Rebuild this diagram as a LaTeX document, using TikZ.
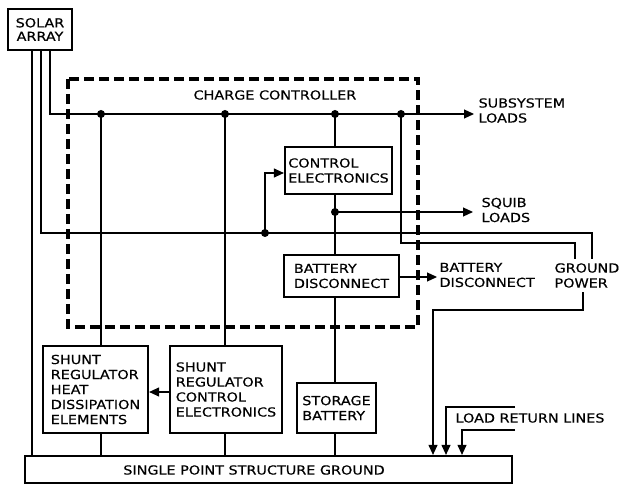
\documentclass[tikz,border=0pt]{standalone}
\usepackage{fontspec}
\setmainfont[FakeStretch=1.15,FakeBold=0.4]{DejaVu Sans}
\usetikzlibrary{arrows.meta}

\begin{document}
\begin{tikzpicture}[x=1pt,y=-1pt,line width=1.1pt,
        font=\fontsize{12.5}{15}\selectfont,
        box/.style={draw,line width=2.2pt,inner sep=0pt,align=left},
        txt/.style={inner sep=0pt,align=left,anchor=west},
        arr/.style={-{Triangle[length=10pt,width=9pt]}},
        dashbox/.style={line width=4.5pt,dash pattern=on 10pt off 5pt}]
        \useasboundingbox (0,0) rectangle (621,486);
        \node[box,align=center,minimum width=64pt,minimum height=41pt,font=\fontsize{12.5}{13.5}\selectfont] (solar) at (40,29.5) {SOLAR\\ARRAY};
        \node[box,minimum width=107pt,minimum height=47pt] (ctrl) at (338.5,170.5) {CONTROL\\ELECTRONICS};
        \node[box,minimum width=115pt,minimum height=42pt] (batd) at (341.5,276) {BATTERY\\DISCONNECT};
        \node[box,minimum width=105pt,minimum height=87pt] (heat) at (95.5,389.5) {SHUNT\\REGULATOR\\HEAT\\DISSIPATION\\ELEMENTS};
        \node[box,minimum width=112pt,minimum height=87pt] (sreg) at (226,389.5) {SHUNT\\REGULATOR\\CONTROL\\ELECTRONICS};
        \node[box,minimum width=79pt,minimum height=50pt] (stor) at (336.5,408) {STORAGE\\BATTERY};
        \node[box,minimum width=487pt,minimum height=27pt] (gnd) at (268.5,469.5) {};
        \node (gndtxt) at (254,470) {SINGLE POINT STRUCTURE GROUND};

        \node[txt] (ccl) at (193,95) {CHARGE CONTROLLER};
        \node[txt] (subsys) at (478,110.5) {SUBSYSTEM\\LOADS};
        \node[txt] (squib) at (481,210) {SQUIB\\LOADS};
        \node[txt] (batlbl) at (439,275) {BATTERY\\DISCONNECT};
        \node[txt,inner ysep=4pt] (gpow) at (554,275.5) {GROUND\\POWER};
        \node[txt] (lret) at (455,418) {LOAD RETURN LINES};
        \coordinate (subend) at (474,114);
        \coordinate (sqend) at (473,212);
        \coordinate (bdend) at (437,277);

        \draw[dashbox] (68,79) rectangle (418,327);

        \draw[arr] (solar.south -| 50,0) |- (subend);
        \draw (solar.south -| 41,0) |- (592,233) -- (592,0 |- gpow.north);
        \draw (solar.south -| 32,0) -- (32,0 |- gnd.north);
        \foreach \x/\n in {101/heat,225/sreg} {
            \draw (\x,114) -- (\x,0 |- \n.north);
            \draw (\x,0 |- \n.south) -- (\x,0 |- gnd.north);
        }
        \draw[arr] (sreg.west |- 0,392) -- (heat.east |- 0,392);
        \draw (335,114) -- (335,0 |- ctrl.north);
        \draw (335,0 |- ctrl.south) -- (335,0 |- batd.north);
        \draw (335,0 |- batd.south) -- (335,0 |- stor.north);
        \draw (335,0 |- stor.south) -- (335,0 |- gnd.north);
        \draw[arr] (335,212) -- (sqend);
        \draw[arr] (batd.east |- bdend) -- (bdend);
        \draw (401,114) |- (575,243) -- (575,0 |- gpow.north);
        \draw[arr] (265,233) |- (ctrl.west |- 0,173);
        \draw[arr] (583,0 |- gpow.south) |- (433,310) -- (433,0 |- gnd.north);
        \draw[arr] (515,407) -| (446,0 |- gnd.north);
        \draw[arr] (515,430) -| (462,0 |- gnd.north);
        \foreach \x/\y in {101/114,225/114,335/114,401/114,335/212,265/233} {
            \fill (\x,\y) circle (4);
        }
\end{tikzpicture}
\end{document}
